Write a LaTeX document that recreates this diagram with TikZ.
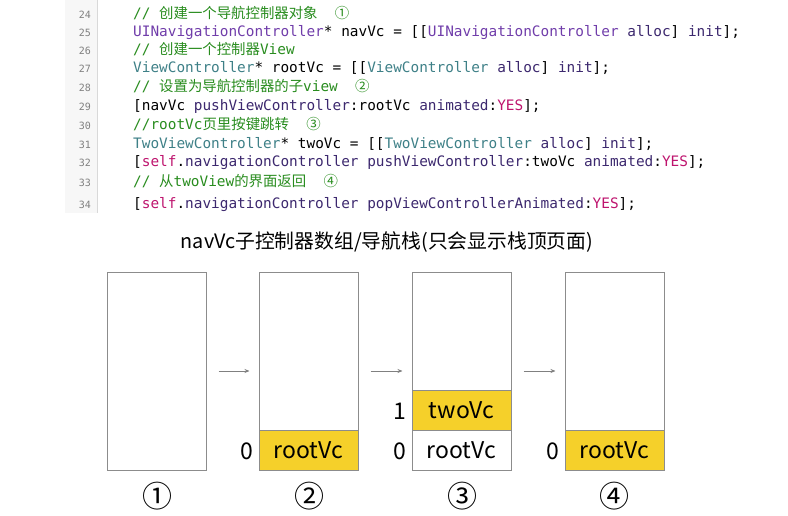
\documentclass[tikz,border=0pt]{standalone}
\usepackage{fontspec}
\usetikzlibrary{arrows.meta}
\setmainfont{Noto Sans CJK SC}
\newfontfamily\cjk{Noto Sans CJK SC}
\newfontfamily\mono{DejaVu Sans Mono}
\definecolor{cmt}{RGB}{40,140,30}
\definecolor{cls}{RGB}{112,61,170}
\definecolor{vc}{RGB}{62,128,135}
\definecolor{kw}{RGB}{190,20,110}
\definecolor{mth}{RGB}{60,40,110}
\definecolor{ylw}{RGB}{245,208,42}
\definecolor{bord}{RGB}{140,140,140}
\newcommand{\C}[1]{{\cjk #1}}
\begin{document}
\begin{tikzpicture}[x=1pt,y=-1pt,
  codeline/.style={anchor=base west,inner sep=0pt,font=\mono\fontsize{14.4}{16}\selectfont},
  lnum/.style={anchor=base east,inner sep=0pt,text=gray,font=\mono\fontsize{10}{12}\selectfont},
  stackbox/.style={draw=bord,line width=1pt,minimum width=99pt,minimum height=198pt,inner sep=0pt},
  cell/.style={draw=bord,line width=1pt,minimum width=99pt,minimum height=40pt,inner sep=0pt,font=\fontsize{23}{25}\selectfont},
  idx/.style={anchor=east,inner sep=0pt,font=\fontsize{23}{25}\selectfont},
  circ/.style={font=\fontsize{30}{32}\selectfont,inner sep=0pt},
  arr/.style={draw=gray,line width=0.8pt,-{Stealth[length=5pt,width=4pt]}}]
\useasboundingbox (0,0) rectangle (788,516);
\fill[gray!6] (65,0) rectangle (97,213);
\draw[gray!30] (97,0) -- (97,213);
\foreach \n/\y in {24/19,25/37,26/55,27/73,28/92,29/111,30/130,31/149,32/167,33/187,34/208}
  \node[lnum] (ln\n) at (91,\y) {\n};
\node[codeline] (c24) at (133,19) {\color{cmt}// \C{创建一个导航控制器对象}\ \ \C{①}};
\node[codeline] (c25) at (133,37) {\textcolor{cls}{UINavigationController}* navVc = [[\textcolor{cls}{UINavigationController} \textcolor{mth}{alloc}] \textcolor{mth}{init}];};
\node[codeline] (c26) at (133,55) {\color{cmt}// \C{创建一个控制器}View};
\node[codeline] (c27) at (133,73) {\textcolor{vc}{ViewController}* rootVc = [[\textcolor{vc}{ViewController} \textcolor{mth}{alloc}] \textcolor{mth}{init}];};
\node[codeline] (c28) at (133,92) {\color{cmt}// \C{设置为导航控制器的子}view\ \ \C{②}};
\node[codeline] (c29) at (133,111) {[navVc \textcolor{mth}{pushViewController}:rootVc \textcolor{mth}{animated}:\textcolor{kw}{YES}];};
\node[codeline] (c30) at (133,130) {\color{cmt}//rootVc\C{页里按键跳转}\ \ \C{③}};
\node[codeline] (c31) at (133,149) {\textcolor{vc}{TwoViewController}* twoVc = [[\textcolor{vc}{TwoViewController} \textcolor{mth}{alloc}] \textcolor{mth}{init}];};
\node[codeline] (c32) at (133,167) {[\textcolor{kw}{self}.\textcolor{mth}{navigationController} \textcolor{mth}{pushViewController}:twoVc \textcolor{mth}{animated}:\textcolor{kw}{YES}];};
\node[codeline] (c33) at (133,187) {\color{cmt}// \C{从}twoView\C{的界面返回}\ \ \C{④}};
\node[codeline] (c34) at (133,208) {[\textcolor{kw}{self}.\textcolor{mth}{navigationController} \textcolor{mth}{popViewControllerAnimated}:\textcolor{kw}{YES}];};
\node[font=\fontsize{19.8}{22}\selectfont,inner sep=0pt] (title) at (387,242) {navVc子控制器数组/导航栈(只会显示栈顶页面)};
\node[stackbox] (b1) at (156.5,371) {};
\node[stackbox] (b2) at (308.5,371) {};
\node[stackbox] (b3) at (461.5,371) {};
\node[stackbox] (b4) at (614.5,371) {};
\node[cell,fill=ylw] (r2) at (308.5,450) {rootVc};
\node[cell,fill=ylw] (t3) at (461.5,410) {twoVc};
\node[cell,fill=white] (r3) at (461.5,450) {rootVc};
\node[cell,fill=ylw] (r4) at (614.5,450) {rootVc};
\node[idx] (i2) at (253,451) {0};
\node[idx] (i3a) at (406,411) {1};
\node[idx] (i3) at (406,451) {0};
\node[idx] (i4) at (559,451) {0};
\draw[arr,shorten <=12pt,shorten >=9pt] (b1) -- (b2);
\draw[arr,shorten <=12pt,shorten >=9pt] (b2) -- (b3);
\draw[arr,shorten <=12pt,shorten >=9pt] (b3) -- (b4);
\node[circ] (n1) at (157,496) {①};
\node[circ] (n2) at (309,496) {②};
\node[circ] (n3) at (462,496) {③};
\node[circ] (n4) at (614,496) {④};
\end{tikzpicture}
\end{document}
